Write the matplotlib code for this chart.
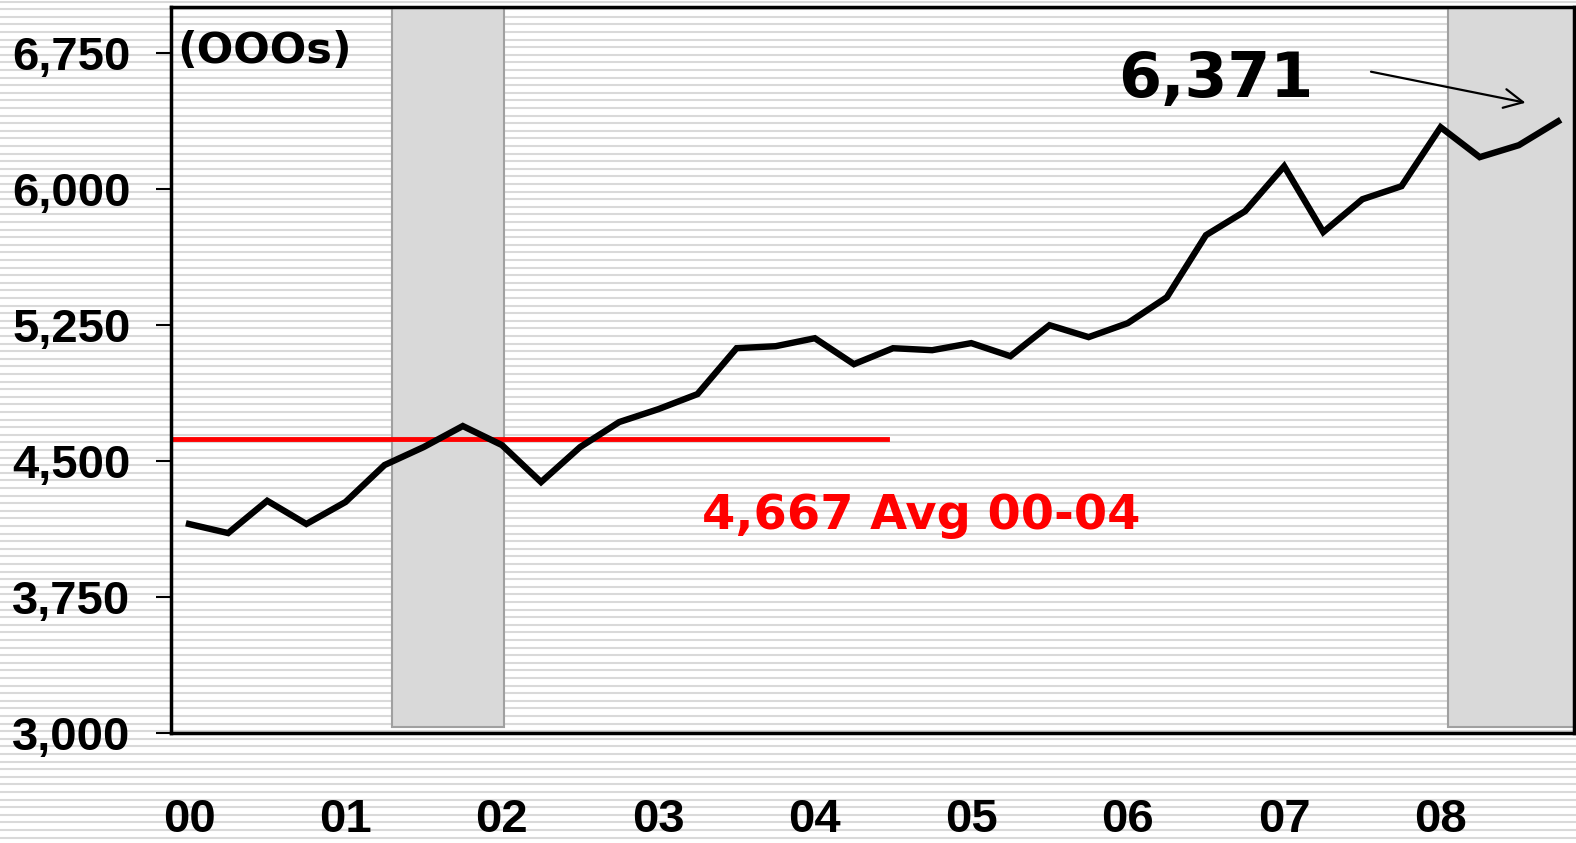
import matplotlib.pyplot as plt
from matplotlib.patches import Rectangle
import numpy as np

# quarterly values, 2000 Q1 .. 2008 Q4 (000s)
values = [4152, 4102, 4280, 4152, 4273, 4477, 4576, 4692,
          4587, 4383, 4576, 4714, 4785, 4868, 5121, 5132,
          5176, 5033, 5121, 5110, 5149, 5077, 5248, 5182,
          5259, 5402, 5744, 5876, 6124, 5761, 5942, 6014,
          6339, 6174, 6240, 6371]
year_labels = ['00', '01', '02', '03', '04', '05', '06', '07', '08']
y_ticks = [3000, 3750, 4500, 5250, 6000, 6750]
avg_level = 4620
avg_end = 17.85
recessions = [(5.18, 8.05), (32.18, 36.0)]

W, H = 1576, 843
fig = plt.figure(figsize=(W / 100, H / 100), dpi=100)
fig.patch.set_facecolor('white')

# striped background over the whole picture
bg = fig.add_axes([0, 0, 1, 1], zorder=0)
bg.set_xlim(0, W)
bg.set_ylim(H, 0)
bg.axis('off')
for yy in np.arange(1.5, H, 7.6):
    bg.axhline(yy, color='#d9d9d9', lw=1.5)

ax = fig.add_axes([170.7 / W, 1 - 733 / H, (1574 - 170.7) / W, (733 - 7.3) / H], zorder=1)
ax.set_facecolor('none')

x = np.arange(len(values))
for a, b in recessions:
    ax.add_patch(Rectangle((a, 3035), b - a, 4500, facecolor='#d9d9d9',
                           edgecolor='#a0a0a0', lw=1.5, zorder=1))

ax.plot([-0.5, avg_end], [avg_level, avg_level], color='red', lw=3.5, zorder=2)
ax.plot(x, values, color='black', lw=4.6, solid_joinstyle='miter', zorder=3)

ax.set_xlim(-0.468, 35.41)
ax.set_ylim(3000, 7000)

ax.set_yticks(y_ticks)
ax.set_yticklabels([f'{v:,}' for v in y_ticks])
ax.set_xticks(x[::4])
ax.set_xticklabels(year_labels)

for lab in ax.get_yticklabels() + ax.get_xticklabels():
    lab.set_fontfamily('Liberation Sans')
    lab.set_fontweight('bold')
    lab.set_fontsize(34)
ax.tick_params(axis='y', length=11, width=1.5, pad=18, direction='out')
ax.tick_params(axis='x', length=0, pad=47)

for s in ax.spines.values():
    s.set_linewidth(2.5)
    s.set_color('black')
    s.set_zorder(4)

ax.text(-0.31, 6692, '(OOOs)', fontsize=31, fontweight='bold',
        family='DejaVu Sans', va='baseline', ha='left', zorder=5)
ax.text(23.75, 6504, '6,371', fontsize=44.5, fontweight='bold',
        family='DejaVu Sans', va='baseline', ha='left', zorder=5)
ax.annotate('', xy=(34.24, 6471), xytext=(30.15, 6648),
            arrowprops=dict(arrowstyle='->', color='black', lw=1.6,
                            mutation_scale=34), zorder=5)
ax.text(13.12, 4124, '4,667 Avg 00-04', fontsize=34.5, fontweight='bold',
        family='DejaVu Sans', color='red', va='baseline', ha='left', zorder=5)

plt.savefig('out.png', dpi=100)
